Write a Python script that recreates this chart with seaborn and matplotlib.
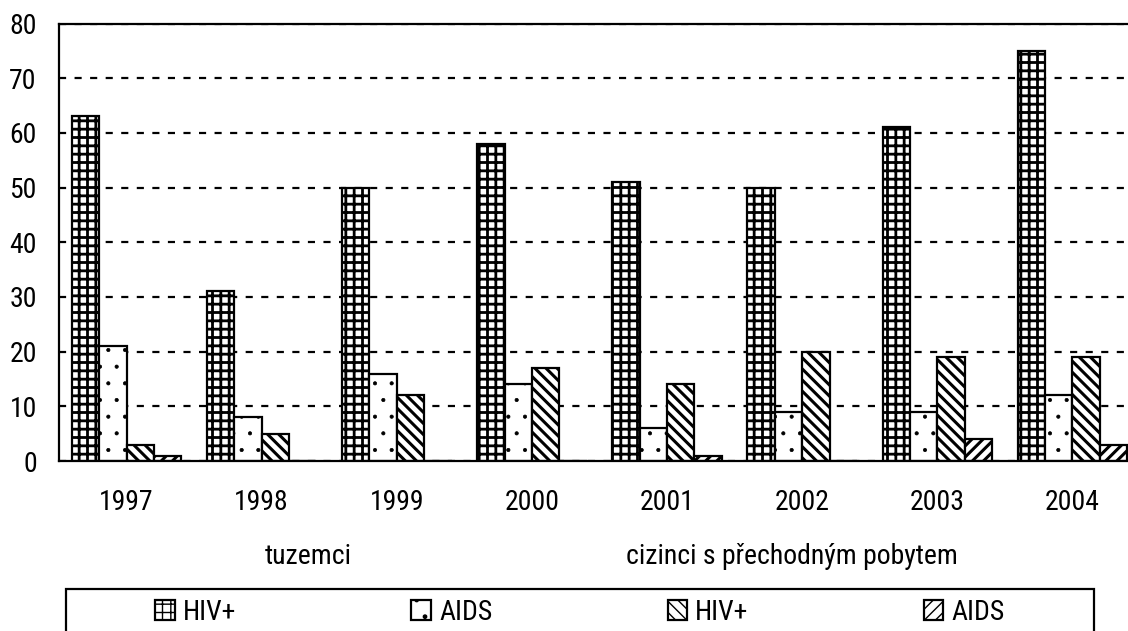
import matplotlib
matplotlib.use("Agg")
import matplotlib.pyplot as plt
from matplotlib import font_manager
from matplotlib.patches import Patch, Rectangle
import numpy as np
import pandas as pd
import seaborn as sns

years = ["1997", "1998", "1999", "2000", "2001", "2002", "2003", "2004"]
hiv_tuzemci = [63, 31, 50, 58, 51, 50, 61, 75]
aids_tuzemci = [21, 8, 16, 14, 6, 9, 9, 12]
hiv_cizinci = [3, 5, 12, 17, 14, 20, 19, 19]
aids_cizinci = [1, 0, 0, 0, 1, 0, 4, 3]
series_keys = ["hiv_t", "aids_t", "hiv_c", "aids_c"]
series_labels = ["HIV+", "AIDS", "HIV+", "AIDS"]
group_labels = ["tuzemci", "cizinci s přechodným pobytem"]
yticks = list(range(0, 81, 10))

HATCHES = ["++", ".", "\\\\\\", "///"]
HATCH_LW = [2.0, 0.5, 2.2, 2.2]

df = pd.DataFrame({
    "year": years * 4,
    "series": np.repeat(series_keys, len(years)),
    "value": hiv_tuzemci + aids_tuzemci + hiv_cizinci + aids_cizinci,
})


def find_narrow_font():
    # look for an Arial Narrow-like face among installed fonts
    wanted = ["liberationsansnarrow-regular", "arialnarrow", "robotocondensed-regular",
              "opensans_condensed-regular", "opensanscondensed-regular",
              "dejavusanscondensed.ttf", "notosans-condensed", "condensed"]
    files = [f.fname for f in font_manager.fontManager.ttflist]
    for key in wanted:
        for path in files:
            low = path.lower().replace(" ", "").split("/")[-1]
            if key in low and "bold" not in low and "italic" not in low \
                    and "oblique" not in low and "light" not in low and "semi" not in low:
                return path
    return None


sns.set_style("white")
path = find_narrow_font()
if path:
    font_manager.fontManager.addfont(path)
    prop = font_manager.FontProperties(fname=path)
    family = prop.get_name()
    stretch = font_manager.ttfFontProperty(font_manager.get_font(path)).stretch
    plt.rcParams["font.stretch"] = stretch
else:
    family = "Liberation Sans"
plt.rcParams["font.family"] = [family, "DejaVu Sans"]
plt.rcParams["hatch.color"] = "black"
plt.rcParams["text.color"] = "black"
plt.rcParams["xtick.color"] = "black"
plt.rcParams["ytick.color"] = "black"
FS = 20

fig = plt.figure(figsize=(11.28, 6.31), dpi=100)
# plot area in pixels: left 59, bottom 461, width ~1081, height ~437
ax = fig.add_axes([59 / 1128, 1 - 461 / 631, 1081 / 1128, 437.5 / 631])

sns.barplot(data=df, x="year", y="value", hue="series", hue_order=series_keys,
            palette=["white"] * 4, saturation=1, edgecolor="black", linewidth=1.6,
            width=0.81, legend=False, ax=ax)

for cont, h, hlw in zip(ax.containers, HATCHES, HATCH_LW):
    for bar in cont:
        bar.set_hatch(h)
        if hasattr(bar, "set_hatch_linewidth"):
            bar.set_hatch_linewidth(hlw)

ax.set_xlim(-0.5, 7.5)
ax.set_ylim(0, 80)
ax.set_yticks(yticks)
ax.set_xlabel("")
ax.set_ylabel("")
ax.yaxis.grid(True, color="black", linewidth=1.6, linestyle=(0, (3.2, 3.8)))
ax.set_axisbelow(True)

for side in ["left", "bottom", "top"]:
    ax.spines[side].set_visible(True)
    ax.spines[side].set_color("black")
    ax.spines[side].set_linewidth(1.6)
ax.spines["right"].set_visible(False)

ax.tick_params(axis="y", direction="out", length=7, width=1.6, pad=9, labelsize=FS)
ax.set_xticks(np.arange(-0.5, 8, 1), minor=True)
ax.tick_params(axis="x", which="minor", direction="out", length=7, width=1.6)
ax.tick_params(axis="x", which="major", length=0, pad=20, labelsize=FS)

fig.text(308 / 1128, 1 - 556 / 631, group_labels[0], ha="center", va="center", fontsize=FS)
fig.text(792 / 1128, 1 - 556 / 631, group_labels[1], ha="center", va="center", fontsize=FS)

# legend box
fig.add_artist(Rectangle((66 / 1128, -0.05), (1094 - 66) / 1128, 0.05 + 1 - 589 / 631,
                         transform=fig.transFigure, facecolor="none", edgecolor="black",
                         linewidth=1.6, clip_on=False))
handles = []
for h, hlw in zip(HATCHES, HATCH_LW):
    p = Patch(facecolor="white", edgecolor="black", hatch=h, linewidth=1.6)
    if hasattr(p, "set_hatch_linewidth"):
        p.set_hatch_linewidth(hlw + 0.6)
    handles.append(p)
fig.legend(handles, series_labels, loc="center", bbox_to_anchor=(580 / 1128, 1 - 612 / 631),
           ncol=4, frameon=False, fontsize=FS, handlelength=0.7, handleheight=0.7,
           handletextpad=0.3, columnspacing=6.3, borderaxespad=0)

fig.savefig("out.png", dpi=100)
